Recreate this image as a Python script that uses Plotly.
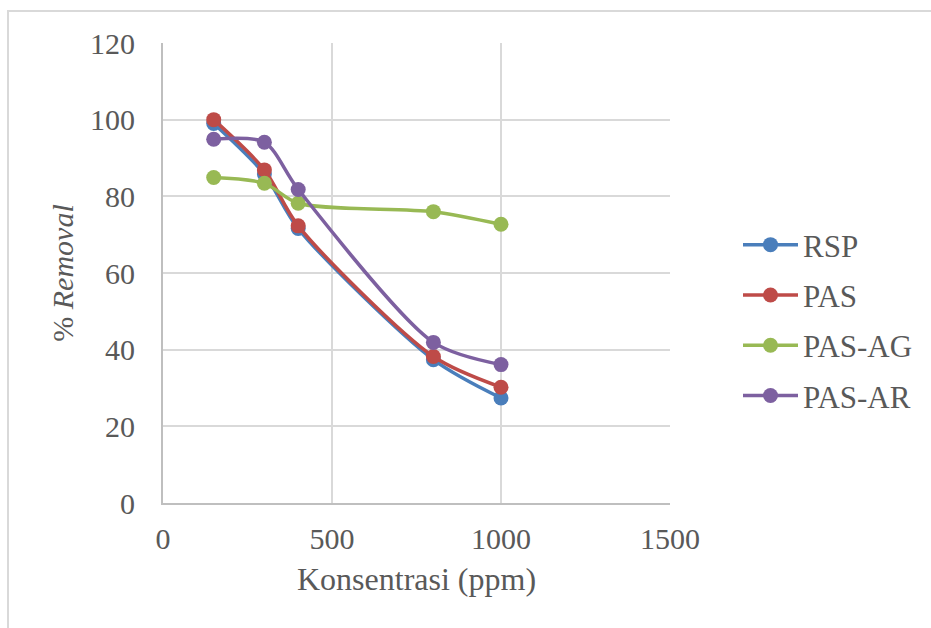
import plotly.graph_objects as go

x_ppm = [150, 300, 400, 800, 1000]
rsp = [99.0, 85.8, 71.6, 37.4, 27.4]
pas = [100.0, 86.9, 72.3, 38.2, 30.2]
pas_ag = [84.9, 83.4, 78.2, 76.0, 72.7]
pas_ar = [94.9, 94.1, 81.8, 41.9, 36.1]

series = [("RSP", rsp, "#4a7ebb"), ("PAS", pas, "#be4b48"),
          ("PAS-AG", pas_ag, "#98b954"), ("PAS-AR", pas_ar, "#7d60a0")]

font_family = "Liberation Serif, Times New Roman, serif"
gray = "#595959"

fig = go.Figure()
for name, vals, col in series:
    fig.add_trace(go.Scatter(
        x=x_ppm, y=vals, name=name, mode="lines+markers", legendgroup=name,
        line=dict(color=col, width=3.5, shape="spline", smoothing=0.8),
        marker=dict(color=col, size=15),
    ))

L, R, T, B = 163, 261, 43, 125
W, H = 931, 628
pw, ph = W - L - R, H - T - B

fig.update_layout(
    width=W, height=H,
    margin=dict(l=L, r=R, t=T, b=B),
    paper_bgcolor="white", plot_bgcolor="white",
    font=dict(family=font_family, size=30, color=gray),
    showlegend=True,
    legend=dict(x=(738 - L) / pw, y=(503 - 218) / ph, xanchor="left", yanchor="top",
                font=dict(size=31, color=gray), itemwidth=55,
                tracegroupgap=7, bgcolor="rgba(0,0,0,0)"),
    xaxis=dict(range=[0, 1500], tickvals=[0, 500, 1000, 1500], showgrid=True,
               gridcolor="#d9d9d9", gridwidth=1.5, zeroline=False,
               showline=True, linecolor="#bfbfbf", linewidth=2,
               ticks="", ticklabelstandoff=8,
               title=dict(text="Konsentrasi (ppm)", font=dict(size=32, color=gray), standoff=14)),
    yaxis=dict(range=[0, 120], tickvals=[0, 20, 40, 60, 80, 100, 120], showgrid=True,
               gridcolor="#d9d9d9", gridwidth=1.5, zeroline=False,
               showline=True, linecolor="#bfbfbf", linewidth=2,
               ticks="", ticklabelstandoff=20,
               title=dict(text="% <i>Removal</i>", font=dict(size=30, color=gray), standoff=8)),
)

# outer chart border (light gray), extends beyond right/bottom edges
fig.add_shape(type="rect", xref="paper", yref="paper",
              x0=(8 - L) / pw, x1=(W + 20 - L) / pw,
              y0=(503 - (H + 20)) / ph, y1=(503 - 11) / ph,
              line=dict(color="#d9d9d9", width=2), layer="below")

fig.write_html("out.html")
